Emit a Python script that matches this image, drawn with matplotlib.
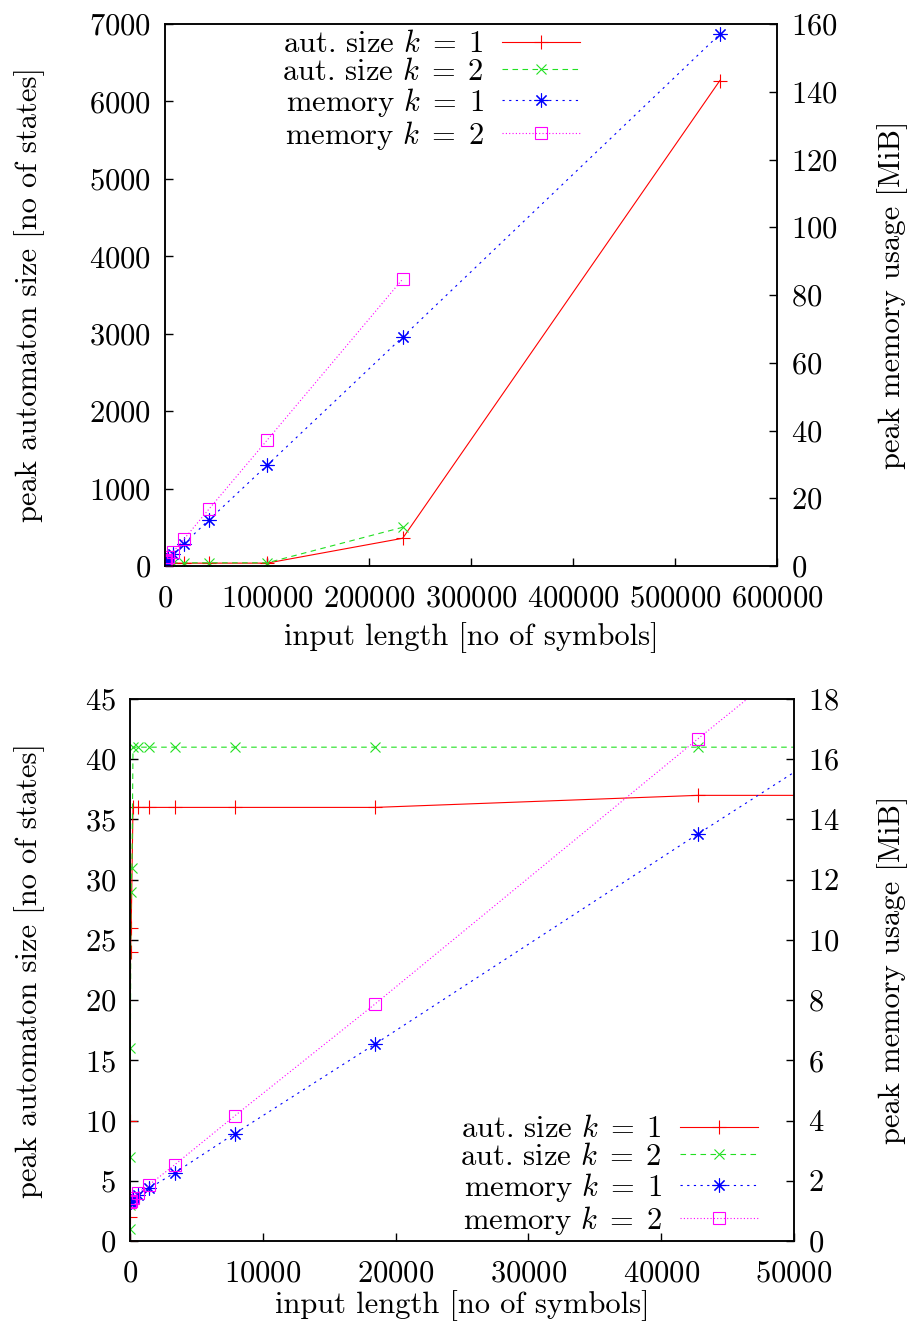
"""
Peak automaton size and peak memory usage against input length,
for k = 1 and k = 2. Two panels: the full range and a zoom on small inputs.
"""

import matplotlib
matplotlib.use("Agg")
import matplotlib.pyplot as plt

plt.rcParams['font.family'] = ['cmr10', 'DejaVu Serif']
plt.rcParams['mathtext.fontset'] = 'cm'
plt.rcParams['axes.unicode_minus'] = False
plt.rcParams['axes.formatter.use_mathtext'] = True

# Automaton size, k = 1
x_aut1 = [2, 6, 15, 40, 90, 226, 580, 1430, 3390, 7900, 18450, 42770, 100000, 233000, 544000]
aut1 = [0, 2, 10, 24, 26, 36, 36, 36, 36, 36, 36, 37, 37, 358, 6270]

# Automaton size, k = 2
x_aut2 = [2, 5, 12, 30, 70, 150, 226, 580, 1430, 3390, 7900, 18450, 42770, 100000, 233000]
aut2 = [1, 3, 7, 16, 29, 31, 41, 41, 41, 41, 41, 41, 41, 41, 500]

# Peak memory in MiB, k = 1
x_mem1 = [2, 6, 15, 40, 90, 226, 580, 1430, 3390, 7900, 18450, 42770, 100000, 233000, 544000]
mem1 = [1.28, 1.29, 1.30, 1.31, 1.33, 1.40, 1.53, 1.75, 2.27, 3.57, 6.54, 13.52, 29.7, 67.6, 157.0]

# Peak memory in MiB, k = 2
x_mem2 = [2, 6, 15, 40, 90, 226, 580, 1430, 3390, 7900, 18450, 42770, 100000, 233000]
mem2 = [1.29, 1.30, 1.31, 1.32, 1.34, 1.42, 1.60, 1.86, 2.54, 4.16, 7.87, 16.68, 37.1, 84.7]

labels = [r"aut. size $k\;=\;1$", r"aut. size $k\;=\;2$", r"memory $k\;=\;1$", r"memory $k\;=\;2$"]

FS = 22
star = (8, 2, 0)   # gnuplot style star: + and x together


def draw_panel(rect, xlim, xticks, ylim, yticks, y2lim, y2ticks, leg_anchor, ylab_x, y2lab_x, xlab_y):
    ax = fig.add_axes(rect)
    ax2 = ax.twinx()

    l1, = ax.plot(x_aut1, aut1, color='#ff0000', lw=0.8, marker='+', ms=10, mew=0.8)
    l2, = ax.plot(x_aut2, aut2, color='#22e022', lw=0.8, ls=(0, (5, 4)), marker='x', ms=7.5, mew=0.8)
    l3, = ax2.plot(x_mem1, mem1, color='#0000ff', lw=0.8, ls=(0, (2, 4)), marker=star, ms=10, mew=0.8)
    l4, = ax2.plot(x_mem2, mem2, color='#ff00ff', lw=0.8, ls=(0, (1, 2)), marker='s', ms=8,
                   mew=0.8, fillstyle='none')

    ax.set_xlim(xlim)
    ax.set_xticks(xticks)
    ax.set_ylim(ylim)
    ax.set_yticks(yticks)
    ax2.set_ylim(y2lim)
    ax2.set_yticks(y2ticks)

    for a in (ax, ax2):
        for s in a.spines.values():
            s.set_linewidth(1.1)
        a.tick_params(direction='in', length=6, width=1, labelsize=FS, pad=10)
    ax.tick_params(axis='y', right=False)
    ax.tick_params(axis='x', top=False, pad=14)
    ax2.tick_params(axis='y', left=False)

    ax.set_ylabel("peak automaton size [no of states]", fontsize=FS, va='center')
    ax.yaxis.set_label_coords(ylab_x, 0.5)
    ax2.set_ylabel("peak memory usage [MiB]", fontsize=FS, va='center', rotation=90)
    ax2.yaxis.set_label_coords(y2lab_x, 0.5)
    ax.set_xlabel("input length [no of symbols]", fontsize=FS, va='center')
    ax.xaxis.set_label_coords(0.5, xlab_y)

    ax2.legend([l1, l2, l3, l4], labels, loc='upper right', bbox_to_anchor=leg_anchor,
               bbox_transform=fig.transFigure, frameon=False, markerfirst=False,
               fontsize=FS, handlelength=2.55, handletextpad=0.6, labelspacing=0.0,
               borderpad=0, borderaxespad=0)


W, H = 914, 1332
fig = plt.figure(figsize=(W / 100, H / 100), dpi=100)

# full range
draw_panel([165 / W, (H - 566) / H, 612 / W, 542 / H],
           (0, 600000), range(0, 600001, 100000),
           (0, 7000), range(0, 7001, 1000),
           (0, 160), range(0, 161, 20),
           (580 / W, 1 - 31 / H), (30 - 165) / 612, (893 - 165) / 612, (566 - 638) / 542)

# zoom on small inputs
draw_panel([130 / W, (H - 1241) / H, 664 / W, 542 / H],
           (0, 50000), range(0, 50001, 10000),
           (0, 45), range(0, 46, 5),
           (0, 18), range(0, 19, 2),
           (758 / W, 1 - 1116 / H), (30 - 130) / 664, (893 - 130) / 664, (1241 - 1306) / 542)

fig.savefig("out.png", dpi=100)
